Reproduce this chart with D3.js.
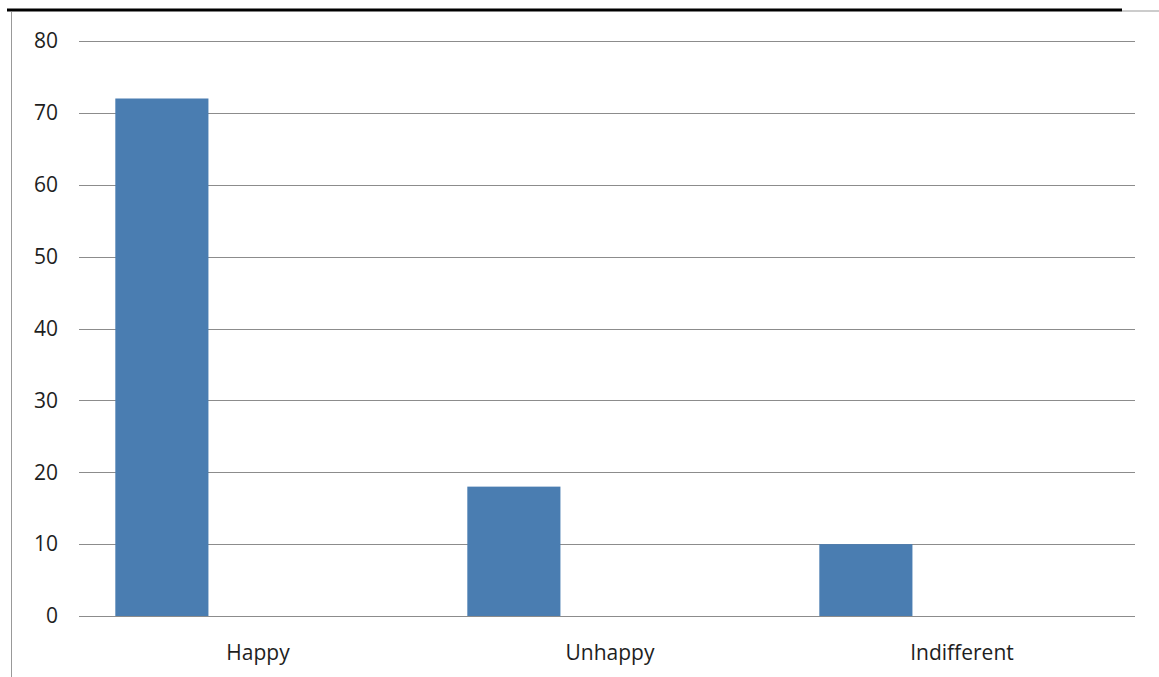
<!DOCTYPE html>
<html>
<head>
<meta charset="utf-8">
<script src="https://cdn.jsdelivr.net/npm/d3@7"></script>
<style>
  body { margin: 0; background: #fff; }
  svg { display: block; }
  text { font-family: "Open Sans", "Liberation Sans", sans-serif; fill: #1e1e1e; }
</style>
</head>
<body>
<svg width="1159" height="677"></svg>
<script>
// chart data
var categories = ["Happy", "Unhappy", "Indifferent"];
var values = [72, 18, 10];
var yTicks = [0, 10, 20, 30, 40, 50, 60, 70, 80];

var svg = d3.select("svg"),
    width = +svg.attr("width"),
    height = +svg.attr("height");

var plotLeft = 79, plotRight = 1135, plotTop = 41, plotBottom = 616;

// frame: thick top rule, thin left border
svg.append("line")
    .attr("x1", 7).attr("x2", 1122).attr("y1", 10).attr("y2", 10)
    .attr("stroke", "#000").attr("stroke-width", 3);
svg.append("line")
    .attr("x1", 1122).attr("x2", width).attr("y1", 11).attr("y2", 11)
    .attr("stroke", "#999").attr("stroke-width", 1);
svg.append("line")
    .attr("x1", 11.5).attr("x2", 11.5).attr("y1", 12).attr("y2", height)
    .attr("stroke", "#999").attr("stroke-width", 1);

var y = d3.scaleLinear().domain([0, 80]).range([plotBottom, plotTop]);

var x = d3.scaleBand()
    .domain(categories)
    .range([plotLeft, plotRight])
    .padding(0);

// three slots per category, only the first one filled
var slot = d3.scaleBand()
    .domain([0, 1, 2])
    .range([0, x.bandwidth()])
    .paddingInner(0)
    .paddingOuter(0.39);

// gridlines
svg.append("g")
    .selectAll("line")
    .data(yTicks)
    .enter().append("line")
      .attr("x1", plotLeft).attr("x2", plotRight)
      .attr("y1", function(d) { return Math.round(y(d)) + 0.5; })
      .attr("y2", function(d) { return Math.round(y(d)) + 0.5; })
      .attr("stroke", "#8c8c8c")
      .attr("stroke-width", 1);

// y labels
svg.append("g")
    .selectAll("text")
    .data(yTicks)
    .enter().append("text")
      .attr("x", 58)
      .attr("y", function(d) { return y(d); })
      .attr("dy", "0.35em")
      .attr("text-anchor", "end")
      .style("font-size", "21px")
      .text(function(d) { return d; });

// bars
svg.append("g")
    .selectAll("rect")
    .data(values)
    .enter().append("rect")
      .attr("x", function(d, i) { return x(categories[i]) + slot(0); })
      .attr("width", slot.bandwidth())
      .attr("y", function(d) { return y(d); })
      .attr("height", function(d) { return y(0) - y(d); })
      .attr("fill", "#4a7db1");

// category labels
svg.append("g")
    .selectAll("text")
    .data(categories)
    .enter().append("text")
      .attr("x", function(d) { return x(d) + x.bandwidth() / 2 + 3; })
      .attr("y", 660)
      .attr("text-anchor", "middle")
      .style("font-size", "21px")
      .text(function(d) { return d; });
</script>
</body>
</html>
